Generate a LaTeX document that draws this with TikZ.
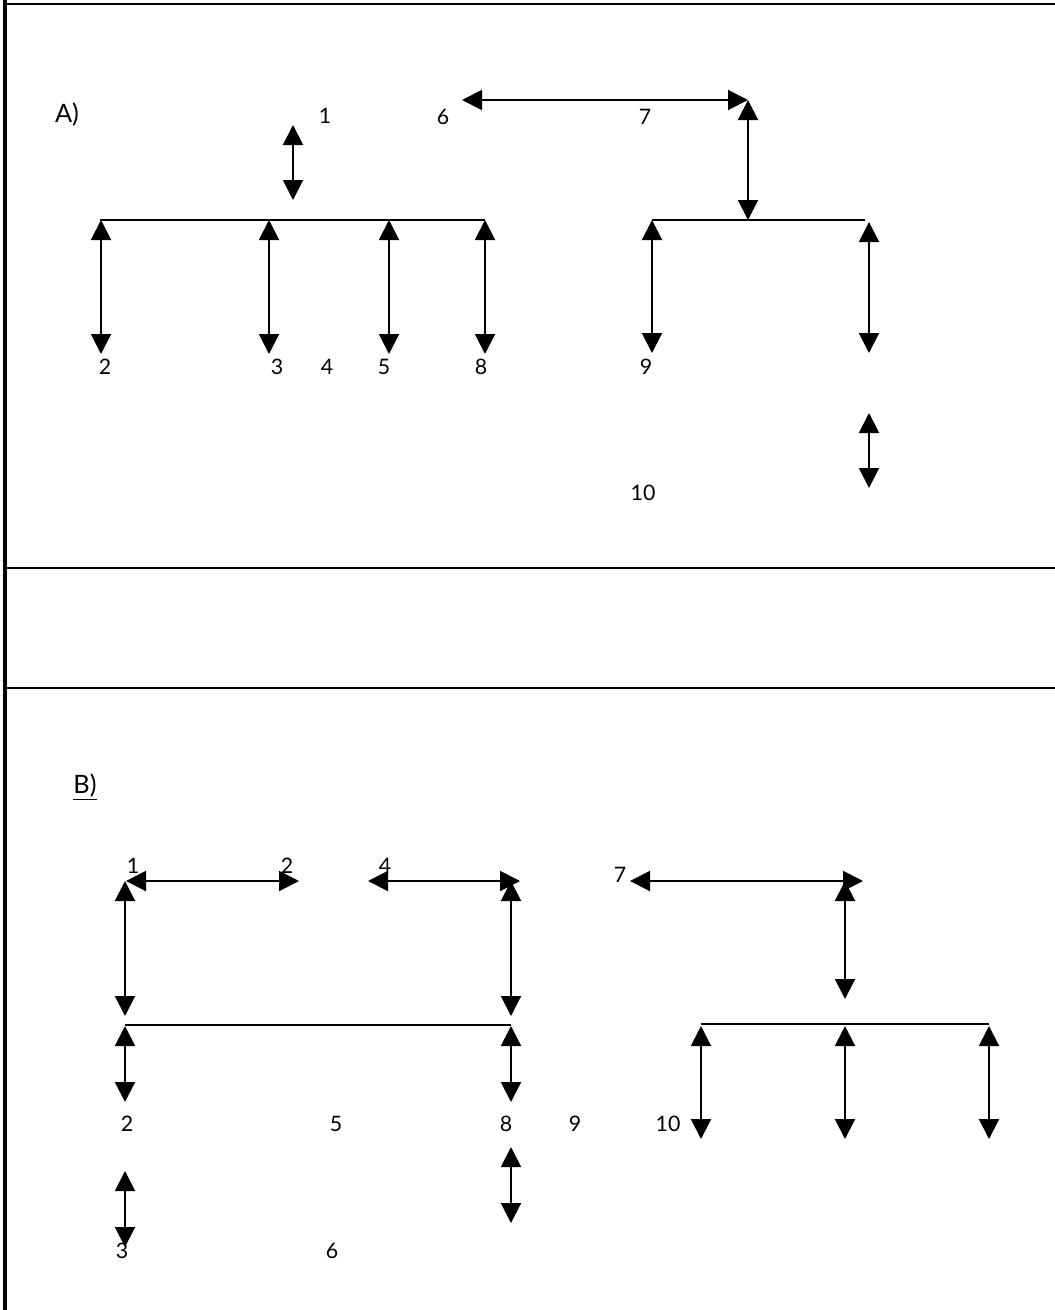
\documentclass[tikz,border=0pt]{standalone}
\usepackage{fontspec}
\setmainfont{Lato}
\usetikzlibrary{arrows.meta}
\begin{document}
\begin{tikzpicture}[x=0.75pt,y=-0.75pt,
  dbl/.style={{Triangle[length=15pt,width=15pt]}-{Triangle[length=15pt,width=15pt]}, line width=1.5pt},
  bar/.style={line width=1.5pt},
  frameline/.style={line width=2pt},
  lbl/.style={font=\fontsize{16}{18}\selectfont, inner sep=0pt},
  head/.style={font=\fontsize{19}{21}\selectfont, inner sep=0pt}]
\useasboundingbox (0,0) rectangle (1055,1310);
\fill[white] (0,0) rectangle (1055,1310);
% frame
\coordinate (fl0) at (5,0); \coordinate (fl1) at (5,1310);
\coordinate (ft0) at (5,4); \coordinate (ft1) at (1055,4);
\coordinate (fm0) at (5,568); \coordinate (fm1) at (1055,568);
\coordinate (fn0) at (5,688); \coordinate (fn1) at (1055,688);
\draw[frameline, line width=2.4pt] (fl0) -- (fl1);
\draw[frameline] (ft0) -- (ft1);
\draw[frameline] (fm0) -- (fm1);
\draw[frameline] (fn0) -- (fn1);

% ---------- Panel A ----------
\node[head] (lA) at (67,115) {A)};
\node[lbl] (a1) at (325,116) {1};
\node[lbl] (a6) at (443,117) {6};
\node[lbl] (a7) at (645,117) {7};
\node[lbl] (a2) at (105,367) {2};
\node[lbl] (a3) at (277,367) {3};
\node[lbl] (a4) at (327,367) {4};
\node[lbl] (a5) at (384,367) {5};
\node[lbl] (a8) at (481,367) {8};
\node[lbl] (a9) at (646,367) {9};
\node[lbl] (a10) at (643,493) {10};

\coordinate (pA1t) at (293,125); \coordinate (pA1b) at (293,200);
\coordinate (pA6) at (462,100); \coordinate (pA7) at (748,100); \coordinate (pA7b) at (748,220);
\coordinate (barAl) at (100,220); \coordinate (barAr) at (485,220);
\coordinate (vA1t) at (101,220); \coordinate (vA1b) at (101,354);
\coordinate (vA2t) at (269,220); \coordinate (vA2b) at (269,354);
\coordinate (vA3t) at (389,220); \coordinate (vA3b) at (389,354);
\coordinate (vA4t) at (485,220); \coordinate (vA4b) at (485,354);
\coordinate (barBl) at (652,220); \coordinate (barBr) at (865,220);
\coordinate (vA5t) at (652,220); \coordinate (vA5b) at (652,353);
\coordinate (vA6t) at (869,222); \coordinate (vA6b) at (869,353);
\coordinate (vA7t) at (869,413); \coordinate (vA7b) at (869,488);

\draw[dbl] (pA1t) -- (pA1b);
\draw[dbl] (pA6) -- (pA7);
\draw[dbl] (pA7) -- (pA7b);
\draw[bar] (barAl) -- (barAr);
\draw[dbl] (vA1t) -- (vA1b);
\draw[dbl] (vA2t) -- (vA2b);
\draw[dbl] (vA3t) -- (vA3b);
\draw[dbl] (vA4t) -- (vA4b);
\draw[bar] (barBl) -- (barBr);
\draw[dbl] (vA5t) -- (vA5b);
\draw[dbl] (vA6t) -- (vA6b);
\draw[dbl] (vA7t) -- (vA7b);

% ---------- Panel B ----------
\node[head] (lB) at (85,787) {\underline{B)}};
\node[lbl] (b1) at (133,866) {1};
\node[lbl] (b2t) at (287,866) {2};
\node[lbl] (b4) at (385,866) {4};
\node[lbl] (b7) at (620,875) {7};
\node[lbl] (b2) at (127,1124) {2};
\node[lbl] (b5) at (336,1124) {5};
\node[lbl] (b8) at (506,1124) {8};
\node[lbl] (b9) at (575,1124) {9};
\node[lbl] (b10) at (668,1124) {10};
\node[lbl] (b3) at (122,1251) {3};
\node[lbl] (b6) at (332,1251) {6};

\coordinate (hB1l) at (126,881); \coordinate (hB1r) at (299,881);
\coordinate (hB2l) at (368,881); \coordinate (hB2r) at (520,881);
\coordinate (vB1t) at (125,881); \coordinate (vB1b) at (125,1016);
\coordinate (vB2t) at (511,881); \coordinate (vB2b) at (511,1016);
\coordinate (barCl) at (125,1025); \coordinate (barCr) at (511,1025);
\coordinate (vB3t) at (125,1026); \coordinate (vB3b) at (125,1102);
\coordinate (vB4t) at (511,1026); \coordinate (vB4b) at (511,1102);
\coordinate (vB5t) at (125,1171); \coordinate (vB5b) at (125,1247);
\coordinate (vB6t) at (511,1147); \coordinate (vB6b) at (511,1223);
\coordinate (hB3l) at (630,881); \coordinate (hB3r) at (863,881);
\coordinate (vB7t) at (845,881); \coordinate (vB7b) at (845,999);
\coordinate (barDl) at (701,1024); \coordinate (barDr) at (989,1024);
\coordinate (vB8t) at (701,1026); \coordinate (vB8b) at (701,1139);
\coordinate (vB9t) at (845,1026); \coordinate (vB9b) at (845,1139);
\coordinate (vB10t) at (989,1026); \coordinate (vB10b) at (989,1139);

\draw[dbl] (hB1l) -- (hB1r);
\draw[dbl] (hB2l) -- (hB2r);
\draw[dbl] (vB1t) -- (vB1b);
\draw[dbl] (vB2t) -- (vB2b);
\draw[bar] (barCl) -- (barCr);
\draw[dbl] (vB3t) -- (vB3b);
\draw[dbl] (vB4t) -- (vB4b);
\draw[dbl] (vB5t) -- (vB5b);
\draw[dbl] (vB6t) -- (vB6b);
\draw[dbl] (hB3l) -- (hB3r);
\draw[dbl] (vB7t) -- (vB7b);
\draw[bar] (barDl) -- (barDr);
\draw[dbl] (vB8t) -- (vB8b);
\draw[dbl] (vB9t) -- (vB9b);
\draw[dbl] (vB10t) -- (vB10b);
\end{tikzpicture}
\end{document}
